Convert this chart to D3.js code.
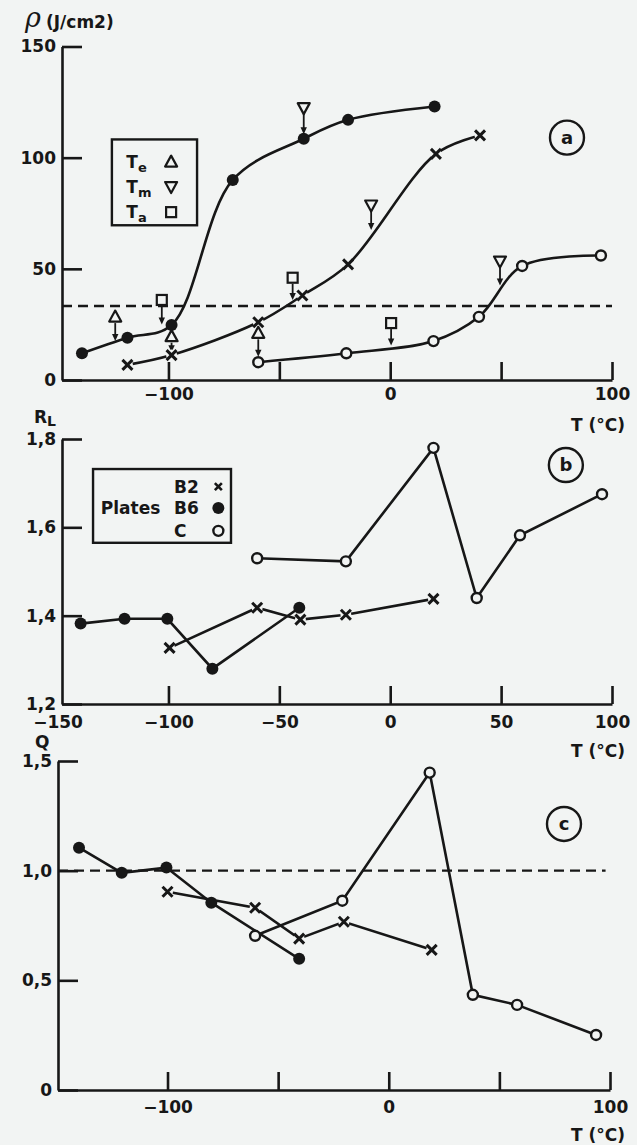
<!DOCTYPE html>
<html>
<head>
<meta charset="utf-8">
<script src="https://cdn.jsdelivr.net/npm/d3@7"></script>
<style>
  body { margin: 0; background: #f2f4f3; }
  svg { display: block; font-family: "DejaVu Sans", sans-serif; font-weight: bold; }
</style>
</head>
<body>
<svg id="chart" width="637" height="1145"></svg>
<script>
// temperature ticks (deg C), shared by the three panels
const tempTicks = [-100, -50, 0, 50, 100];

// (a) rho (J/cm2) against T, one list of [T, rho] per plate
const rhoB2 = [[-118.5, 6.8], [-98.6, 11.2], [-59.5, 26], [-39.6, 38], [-19, 52], [20.6, 101.7], [40.5, 110]];
const rhoB6 = [[-139, 12], [-118.5, 19], [-98.6, 24.7], [-71, 90], [-39, 108.5], [-19, 117], [20, 123]];
const rhoC = [[-59.5, 8], [-19.8, 12], [19.5, 17.5], [40, 28.4], [59.5, 51.3], [95, 56]];
const rhoTicks = [0, 50, 100, 150];
const rhoDash = 33.3;
// transition temperatures: [kind, T, level of symbol, level where arrow stops]
const rhoMarks = [
  ["Te", -124, 28.3, 17.5],
  ["Ta", -103, 36, 25],
  ["Te", -98.6, 19.5, 12.5],
  ["Te", -59.5, 21, 10.5],
  ["Ta", -44, 46, 36],
  ["Tm", -39, 122.5, 110.5],
  ["Tm", -8.6, 78.7, 67.5],
  ["Ta", 0.4, 25.6, 15.5],
  ["Tm", 49.5, 53.5, 42.5]
];

// (b) R_L against T
const rlB2 = [[-99.5, 1.327], [-60, 1.418], [-40.5, 1.391], [-20, 1.402], [19.5, 1.438]];
const rlB6 = [[-139.6, 1.382], [-119.8, 1.393], [-100.5, 1.393], [-80.2, 1.28], [-41, 1.418]];
const rlC = [[-60, 1.53], [-20, 1.523], [19.5, 1.78], [39, 1.44], [58.5, 1.582], [95.5, 1.675]];
const rlTicks = [1.2, 1.4, 1.6, 1.8];

// (c) Q against T
const qB2 = [[-100, 0.904], [-60.4, 0.831], [-40.5, 0.69], [-20.3, 0.767], [19.4, 0.639]];
const qB6 = [[-140, 1.105], [-120.7, 0.99], [-100.5, 1.014], [-80.2, 0.854], [-40.5, 0.598]];
const qC = [[-60.4, 0.703], [-21, 0.863], [18.5, 1.447], [38, 0.434], [58, 0.388], [93.7, 0.251]];
const qTicks = [0, 0.5, 1.0, 1.5];
const qDash = 1.0;

const bg = "#f2f4f3", ink = "#171717";
const svg = d3.select("#chart");
const commaFmt = d => d === 0 ? "0" : d3.format(".1f")(d).replace(".", ",");

function drawMarker(g, kind, cx, cy) {
  if (kind === "B6") {
    g.append("circle").attr("cx", cx).attr("cy", cy).attr("r", 6).attr("fill", ink);
  } else if (kind === "C") {
    g.append("circle").attr("cx", cx).attr("cy", cy).attr("r", 5)
      .attr("fill", bg).attr("stroke", ink).attr("stroke-width", 2.4);
  } else if (kind === "B2") {
    g.append("circle").attr("cx", cx).attr("cy", cy).attr("r", 5.5).attr("fill", bg);
    g.append("path").attr("d", `M${cx - 5},${cy - 5}L${cx + 5},${cy + 5}M${cx + 5},${cy - 5}L${cx - 5},${cy + 5}`)
      .attr("stroke", ink).attr("stroke-width", 3);
  } else if (kind === "Te") {
    g.append("path").attr("d", `M${cx},${cy - 6.5}L${cx - 6},${cy + 4.5}L${cx + 6},${cy + 4.5}Z`)
      .attr("fill", bg).attr("stroke", ink).attr("stroke-width", 2.2).attr("stroke-linejoin", "round");
  } else if (kind === "Tm") {
    g.append("path").attr("d", `M${cx - 6},${cy - 4.5}L${cx + 6},${cy - 4.5}L${cx},${cy + 6.5}Z`)
      .attr("fill", bg).attr("stroke", ink).attr("stroke-width", 2.2).attr("stroke-linejoin", "round");
  } else if (kind === "Ta") {
    g.append("rect").attr("x", cx - 5).attr("y", cy - 5).attr("width", 10).attr("height", 10)
      .attr("fill", bg).attr("stroke", ink).attr("stroke-width", 2.2);
  }
}

function drawPanel(p) {
  const x = d3.scaleLinear().domain(p.tDomain).range(p.xRange);
  const y = d3.scaleLinear().domain(p.yDomain).range(p.yRange);
  const g = svg.append("g");

  // axes
  const ay = g.append("g").attr("transform", `translate(${p.xRange[0]},0)`)
    .call(d3.axisLeft(y).tickValues(p.yTicks).tickSizeInner(-20).tickSizeOuter(0)
      .tickPadding(6).tickFormat(p.yFormat));
  const ax = g.append("g").attr("transform", `translate(0,${p.yRange[0]})`)
    .call(d3.axisBottom(x).tickValues(p.xTicks).tickSizeInner(-18).tickSizeOuter(0)
      .tickPadding(p.xPad).tickFormat(d => p.xLabels.includes(d) ? d3.format("")(d) : ""));
  ax.selectAll(".tick").filter(d => d < p.tDomain[0]).select("line").remove();
  [ax, ay].forEach(a => a.attr("font-family", null).attr("font-size", null));
  g.selectAll(".domain, .tick line").attr("stroke", ink).attr("stroke-width", 2.6);
  g.selectAll(".tick text").attr("fill", ink).style("font-size", "17px");

  // axis titles
  p.titles(g);
  g.append("text").attr("x", 625).attr("y", p.yRange[0] + p.tUnitDy)
    .attr("text-anchor", "end").attr("fill", ink).style("font-size", "17px").text("T (°C)");

  // reference dashed line
  if (p.dash !== undefined) {
    g.append("line").attr("x1", x(p.tDomain[0])).attr("x2", x(p.dashEnd))
      .attr("y1", y(p.dash)).attr("y2", y(p.dash))
      .attr("stroke", ink).attr("stroke-width", 2.4).attr("stroke-dasharray", "10,6");
  }

  // curves and points
  const line = d3.line().x(d => x(d[0])).y(d => y(d[1])).curve(p.curve);
  p.series.forEach(s => {
    g.append("path").datum(s.data).attr("d", line)
      .attr("fill", "none").attr("stroke", ink).attr("stroke-width", 2.6);
  });
  (p.marks || []).forEach(m => {
    const cx = x(m[1]), top = y(m[2]), end = y(m[3]);
    g.append("line").attr("x1", cx).attr("x2", cx).attr("y1", top + 6).attr("y2", end - 3)
      .attr("stroke", ink).attr("stroke-width", 1.8);
    g.append("path").attr("d", `M${cx - 3.2},${end - 7}L${cx},${end}L${cx + 3.2},${end - 7}Z`).attr("fill", ink);
  });
  p.series.forEach(s => s.data.forEach(d => drawMarker(g, s.kind, x(d[0]), y(d[1]))));
  (p.marks || []).forEach(m => drawMarker(g, m[0], x(m[1]), y(m[2])));

  // circled panel letter
  g.append("circle").attr("cx", x(p.tag[0])).attr("cy", y(p.tag[1])).attr("r", 17)
    .attr("fill", "none").attr("stroke", ink).attr("stroke-width", 2.4);
  g.append("text").attr("x", x(p.tag[0])).attr("y", y(p.tag[1]) + 6).attr("text-anchor", "middle")
    .attr("fill", ink).style("font-size", "18px").text(p.tag[2]);

  if (p.legend) p.legend(g, x, y);
}

// panel (a)
drawPanel({
  tDomain: [-148, 100], xRange: [62, 612],
  yDomain: [0, 150], yRange: [380, 46.5],
  yTicks: rhoTicks, yFormat: d3.format("d"),
  xTicks: tempTicks, xLabels: [-100, 0, 100], xPad: 8, tUnitDy: 51,
  dash: rhoDash, dashEnd: 100,
  curve: d3.curveCatmullRom.alpha(0.5),
  series: [{ kind: "B6", data: rhoB6 }, { kind: "B2", data: rhoB2 }, { kind: "C", data: rhoC }],
  marks: rhoMarks,
  tag: [79.7, 109, "a"],
  titles: g => {
    g.append("text").attr("x", 25).attr("y", 27).attr("fill", ink)
      .style("font-family", "'DejaVu Serif', serif").style("font-style", "italic")
      .style("font-weight", "normal").style("font-size", "27px").text("ρ");
    g.append("text").attr("x", 46).attr("y", 28).attr("fill", ink)
      .style("font-size", "17px").text("(J/cm2)");
  },
  legend: (g, x, y) => {
    g.append("rect").attr("x", x(-125.5)).attr("y", y(108.2))
      .attr("width", x(-87.1) - x(-125.5)).attr("height", y(69.6) - y(108.2))
      .attr("fill", "none").attr("stroke", ink).attr("stroke-width", 2.4);
    [["e", "Te", 98], ["m", "Tm", 87], ["a", "Ta", 75.5]].forEach(([sub, kind, lvl]) => {
      const t = g.append("text").attr("x", x(-119)).attr("y", y(lvl) + 6).attr("fill", ink).style("font-size", "17px");
      t.append("tspan").text("T");
      t.append("tspan").attr("dy", 4).style("font-size", "13px").text(sub);
      drawMarker(g, kind, x(-98.8), y(lvl));
    });
  }
});

// panel (b)
drawPanel({
  tDomain: [-148, 100], xRange: [62, 612],
  yDomain: [1.2, 1.8], yRange: [704, 439],
  yTicks: rlTicks, yFormat: commaFmt,
  xTicks: [-150].concat(tempTicks), xLabels: [-150, -100, -50, 0, 50, 100], xPad: 12, tUnitDy: 53,
  curve: d3.curveLinear,
  series: [{ kind: "B6", data: rlB6 }, { kind: "B2", data: rlB2 }, { kind: "C", data: rlC }],
  tag: [79.2, 1.741, "b"],
  titles: g => {
    const t = g.append("text").attr("x", 34).attr("y", 423).attr("fill", ink).style("font-size", "17px");
    t.append("tspan").text("R");
    t.append("tspan").attr("dy", 3).style("font-size", "14px").text("L");
  },
  legend: (g, x, y) => {
    g.append("rect").attr("x", x(-134)).attr("y", y(1.732))
      .attr("width", x(-71.8) - x(-134)).attr("height", y(1.565) - y(1.732))
      .attr("fill", "none").attr("stroke", ink).attr("stroke-width", 2.4);
    g.append("text").attr("x", x(-130.5)).attr("y", y(1.644) + 6).attr("fill", ink)
      .style("font-size", "17px").text("Plates");
    [["B2", "B2", 1.692], ["B6", "B6", 1.644], ["C", "C", 1.592]].forEach(([lab, kind, lvl]) => {
      g.append("text").attr("x", x(-97.5)).attr("y", y(lvl) + 6).attr("fill", ink)
        .style("font-size", "17px").text(lab);
      if (kind === "B2") {
        const cx = x(-77.5), cy = y(lvl);
        g.append("path").attr("d", `M${cx - 3.5},${cy - 3.5}L${cx + 3.5},${cy + 3.5}M${cx + 3.5},${cy - 3.5}L${cx - 3.5},${cy + 3.5}`)
          .attr("stroke", ink).attr("stroke-width", 2.6);
      } else {
        drawMarker(g, kind, x(-77.5), y(lvl));
      }
    });
  }
});

// panel (c)
drawPanel({
  tDomain: [-149.5, 100], xRange: [58, 610],
  yDomain: [0, 1.5], yRange: [1090, 761],
  yTicks: qTicks, yFormat: commaFmt,
  xTicks: tempTicks, xLabels: [-100, 0, 100], xPad: 11, tUnitDy: 51,
  dash: qDash, dashEnd: 98,
  curve: d3.curveLinear,
  series: [{ kind: "B6", data: qB6 }, { kind: "B2", data: qB2 }, { kind: "C", data: qC }],
  tag: [79.2, 1.213, "c"],
  titles: g => {
    g.append("text").attr("x", 35).attr("y", 748).attr("fill", ink).style("font-size", "17px").text("Q");
  }
});
</script>
</body>
</html>
